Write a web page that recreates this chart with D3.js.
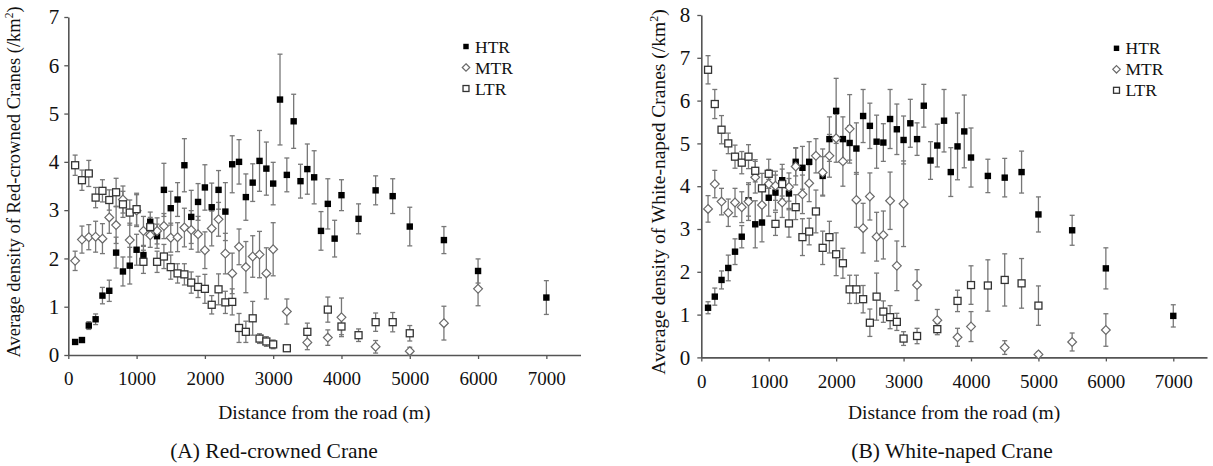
<!DOCTYPE html>
<html>
<head>
<meta charset="utf-8">
<script src="https://cdn.jsdelivr.net/npm/d3@7"></script>
<style>
  body { margin: 0; background: #fff; }
  svg text { font-family: "Liberation Serif", "Times New Roman", serif; fill: #111; }
</style>
</head>
<body>
<div id="chart"></div>
<script>
const width = 1213;
const height = 466;

// Data: [distance (m), mean density, error].
const series = ["HTR", "MTR", "LTR"];
const xTicks = [0, 1000, 2000, 3000, 4000, 5000, 6000, 7000];
const yTicksRed = [0, 1, 2, 3, 4, 5, 6, 7];
const yTicksWhite = [0, 1, 2, 3, 4, 5, 6, 7, 8];

const redHTR = [
  [100, 0.27, 0.03], [200, 0.31, 0.03], [300, 0.61, 0.08], [400, 0.74, 0.11],
  [500, 1.23, 0.17], [600, 1.33, 0.22], [700, 2.12, 0.32], [800, 1.73, 0.3],
  [900, 1.85, 0.38], [1000, 2.18, 0.32], [1100, 2.07, 0.18], [1200, 2.76, 0.2],
  [1300, 2.46, 0.25], [1400, 3.42, 0.55], [1500, 3.04, 0.35], [1600, 3.22, 0.35],
  [1700, 3.93, 0.55], [1800, 2.86, 0.55], [1900, 3.17, 0.38], [2000, 3.47, 0.47],
  [2100, 3.06, 0.5], [2200, 3.42, 0.4], [2300, 2.97, 0.6], [2400, 3.95, 0.59],
  [2500, 4.0, 0.46], [2600, 3.27, 0.48], [2700, 3.57, 0.39], [2800, 4.02, 0.63],
  [2900, 3.86, 0.55], [3000, 3.55, 0.44], [3100, 5.29, 0.94], [3200, 3.73, 0.35],
  [3300, 4.84, 0.56], [3400, 3.6, 0.35], [3500, 3.85, 0.52], [3600, 3.68, 0.55],
  [3700, 2.57, 0.4], [3800, 3.13, 0.52], [3900, 2.41, 0.38], [4000, 3.31, 0.32],
  [4250, 2.82, 0.31], [4500, 3.41, 0.3], [4750, 3.29, 0.36], [5000, 2.66, 0.4],
  [5500, 2.38, 0.28], [6000, 1.74, 0.25], [7000, 1.19, 0.35]
];
const redMTR = [
  [100, 1.95, 0.2], [200, 2.39, 0.28], [300, 2.44, 0.26], [400, 2.45, 0.32],
  [500, 2.41, 0.31], [600, 2.85, 0.33], [700, 2.69, 0.38], [800, 3.22, 0.28],
  [900, 2.38, 0.35], [1000, 2.99, 0.33], [1100, 2.57, 0.3], [1200, 2.48, 0.25],
  [1300, 2.57, 0.27], [1400, 2.67, 0.26], [1500, 2.43, 0.3], [1600, 2.44, 0.3],
  [1700, 2.64, 0.4], [1800, 2.59, 0.4], [1900, 2.5, 0.37], [2000, 2.17, 0.38],
  [2100, 2.62, 0.36], [2200, 2.81, 0.35], [2300, 2.1, 0.42], [2400, 1.69, 0.42],
  [2500, 2.24, 0.37], [2600, 1.82, 0.53], [2700, 2.04, 0.43], [2800, 2.08, 0.48],
  [2900, 1.69, 0.53], [3000, 2.19, 0.55], [3200, 0.9, 0.26], [3500, 0.26, 0.15],
  [3800, 0.36, 0.16], [4000, 0.78, 0.4], [4500, 0.17, 0.13], [5000, 0.08, 0.08],
  [5500, 0.66, 0.35], [6000, 1.37, 0.35]
];
const redLTR = [
  [100, 3.93, 0.21], [200, 3.62, 0.21], [300, 3.76, 0.27], [400, 3.26, 0.21],
  [500, 3.4, 0.23], [600, 3.21, 0.21], [700, 3.37, 0.29], [800, 3.12, 0.27],
  [900, 2.95, 0.26], [1000, 3.02, 0.33], [1100, 1.93, 0.24], [1200, 2.65, 0.2],
  [1300, 1.93, 0.22], [1400, 2.04, 0.25], [1500, 1.82, 0.25], [1600, 1.69, 0.2],
  [1700, 1.67, 0.22], [1800, 1.5, 0.22], [1900, 1.41, 0.22], [2000, 1.37, 0.3],
  [2100, 1.04, 0.19], [2200, 1.36, 0.32], [2300, 1.09, 0.23], [2400, 1.1, 0.27],
  [2500, 0.56, 0.3], [2600, 0.48, 0.22], [2700, 0.76, 0.35], [2800, 0.34, 0.1],
  [2900, 0.28, 0.1], [3000, 0.22, 0.09], [3200, 0.14, 0.04], [3500, 0.48, 0.18],
  [3800, 0.94, 0.26], [4000, 0.59, 0.17], [4250, 0.41, 0.13], [4500, 0.68, 0.19],
  [4750, 0.68, 0.2], [5000, 0.45, 0.16]
];

const whiteHTR = [
  [100, 1.16, 0.14], [200, 1.42, 0.2], [300, 1.81, 0.21], [400, 2.09, 0.3],
  [500, 2.47, 0.3], [600, 2.82, 0.26], [700, 3.67, 0.37], [800, 3.11, 0.55],
  [900, 3.15, 0.45], [1000, 3.73, 0.43], [1100, 3.85, 0.41], [1200, 4.14, 0.37],
  [1300, 3.83, 0.35], [1400, 4.57, 0.33], [1500, 4.43, 0.5], [1600, 4.57, 0.47],
  [1800, 4.24, 0.45], [1900, 5.1, 0.52], [2000, 5.76, 0.76], [2100, 5.1, 0.52],
  [2200, 5.01, 0.4], [2300, 4.88, 0.6], [2400, 5.64, 0.62], [2500, 5.41, 0.53],
  [2600, 5.04, 0.62], [2700, 5.02, 0.44], [2800, 5.57, 0.69], [2900, 5.33, 0.59],
  [3000, 5.08, 0.56], [3100, 5.47, 0.56], [3200, 5.1, 0.38], [3300, 5.88, 0.5],
  [3400, 4.6, 0.44], [3500, 4.95, 0.5], [3600, 5.53, 0.73], [3700, 4.33, 0.57],
  [3800, 4.93, 0.78], [3900, 5.28, 0.85], [4000, 4.67, 0.69], [4250, 4.24, 0.39],
  [4500, 4.2, 0.45], [4750, 4.33, 0.49], [5000, 3.34, 0.41], [5500, 2.97, 0.35],
  [6000, 2.08, 0.48], [7000, 0.97, 0.26]
];
const whiteMTR = [
  [100, 3.47, 0.31], [200, 4.05, 0.32], [300, 3.64, 0.31], [400, 3.38, 0.32],
  [500, 3.62, 0.33], [600, 3.51, 0.36], [700, 3.64, 0.44], [800, 4.21, 0.37],
  [900, 3.56, 0.35], [1000, 4.05, 0.34], [1100, 4.01, 0.34], [1200, 3.62, 0.35],
  [1300, 3.98, 0.33], [1400, 4.46, 0.43], [1500, 3.81, 0.45], [1600, 4.07, 0.43],
  [1700, 4.71, 0.4], [1800, 4.32, 0.55], [1900, 4.71, 0.5], [2000, 5.12, 0.56],
  [2100, 4.58, 0.58], [2200, 5.34, 0.8], [2300, 3.68, 0.64], [2400, 3.02, 0.58],
  [2500, 3.76, 0.55], [2600, 2.82, 0.57], [2700, 2.86, 0.56], [2800, 3.66, 0.67],
  [2900, 2.14, 0.58], [3000, 3.59, 1.0], [3200, 1.69, 0.36], [3500, 0.87, 0.25],
  [3800, 0.47, 0.21], [4000, 0.72, 0.35], [4500, 0.23, 0.16], [5000, 0.07, 0.06],
  [5500, 0.36, 0.21], [6000, 0.64, 0.38]
];
const whiteLTR = [
  [100, 6.72, 0.33], [200, 5.92, 0.34], [300, 5.32, 0.33], [400, 5.0, 0.24],
  [500, 4.69, 0.27], [600, 4.55, 0.26], [700, 4.69, 0.28], [800, 4.36, 0.26],
  [900, 3.95, 0.35], [1000, 4.29, 0.34], [1100, 3.12, 0.27], [1200, 4.05, 0.35],
  [1300, 3.13, 0.32], [1400, 3.51, 0.29], [1500, 2.81, 0.43], [1600, 2.94, 0.31],
  [1700, 3.41, 0.5], [1800, 2.56, 0.39], [1900, 2.81, 0.37], [2000, 2.41, 0.5],
  [2100, 2.2, 0.35], [2200, 1.59, 0.33], [2300, 1.59, 0.33], [2400, 1.36, 0.32],
  [2500, 0.81, 0.32], [2600, 1.42, 0.55], [2700, 1.07, 0.25], [2800, 0.94, 0.27],
  [2900, 0.83, 0.2], [3000, 0.44, 0.16], [3200, 0.5, 0.18], [3500, 0.66, 0.13],
  [3800, 1.32, 0.25], [4000, 1.69, 0.45], [4250, 1.68, 0.6], [4500, 1.81, 0.61],
  [4750, 1.73, 0.58], [5000, 1.21, 0.46]
];

const svg = d3.select("#chart")
  .append("svg")
  .attr("width", width)
  .attr("height", height);

const axisColour = "#555";
const barColour = "#777";

// Marker drawing for each series.
const drawMarker = (g, name, cx, cy, small) => {
  const s = small ? 0.85 : 1;
  if (name === "HTR") {
    const h = 3.2 * s;
    g.append("rect")
      .attr("x", cx - h).attr("y", cy - h)
      .attr("width", 2 * h).attr("height", 2 * h)
      .attr("fill", "#000");
  } else if (name === "MTR") {
    const h = 4.4 * s;
    g.append("path")
      .attr("d", `M${cx},${cy - h}L${cx + h},${cy}L${cx},${cy + h}L${cx - h},${cy}Z`)
      .attr("fill", "#fff")
      .attr("stroke", "#6a6a6a")
      .attr("stroke-width", 1.2);
  } else {
    const h = 3.5 * s;
    g.append("rect")
      .attr("x", cx - h).attr("y", cy - h)
      .attr("width", 2 * h).attr("height", 2 * h)
      .attr("fill", "#fff")
      .attr("stroke", "#333")
      .attr("stroke-width", 1.3);
  }
};

const drawPanel = cfg => {
  const x = d3.scaleLinear().domain([0, 7500]).range([cfg.left, cfg.right]);
  const y = d3.scaleLinear().domain([0, cfg.yMax]).range([cfg.bottom, cfg.top]);
  const g = svg.append("g");

  // Axes.
  const xAxis = g.append("g")
    .attr("transform", `translate(0,${cfg.bottom})`)
    .call(d3.axisBottom(x).tickValues(xTicks).tickSize(4).tickSizeOuter(0).tickPadding(13)
      .tickFormat(d3.format("d")));
  const yAxis = g.append("g")
    .attr("transform", `translate(${cfg.left},0)`)
    .call(d3.axisLeft(y).tickValues(cfg.yTicks).tickSize(4).tickSizeOuter(0).tickPadding(cfg.yPad)
      .tickFormat(d3.format("d")));

  [xAxis, yAxis].forEach(a => {
    a.select(".domain").attr("stroke", axisColour).attr("stroke-width", 1.6);
    a.selectAll(".tick line").attr("stroke", axisColour).attr("stroke-width", 1.3);
    a.selectAll(".tick text")
      .attr("font-family", "Liberation Serif, serif")
      .attr("fill", "#111");
  });
  xAxis.selectAll(".tick text").attr("font-size", 19);
  yAxis.selectAll(".tick text").attr("font-size", 21);

  // Error bars.
  const bars = g.append("g")
    .attr("stroke", barColour)
    .attr("stroke-width", 1.3);
  cfg.data.forEach(rows => {
    rows.forEach(([d, v, e]) => {
      const cx = x(d);
      const y1 = y(v + e);
      const y2 = y(Math.max(0, v - e));
      bars.append("line").attr("x1", cx).attr("x2", cx).attr("y1", y1).attr("y2", y2);
      bars.append("line").attr("x1", cx - 2.5).attr("x2", cx + 2.5).attr("y1", y1).attr("y2", y1);
      bars.append("line").attr("x1", cx - 2.5).attr("x2", cx + 2.5).attr("y1", y2).attr("y2", y2);
    });
  });

  // Points.
  const points = g.append("g");
  cfg.data.forEach((rows, i) => {
    rows.forEach(([d, v]) => drawMarker(points, series[i], x(d), y(v), false));
  });

  // Legend.
  series.forEach((name, i) => {
    const cy = cfg.legendY + i * 21;
    drawMarker(g, name, cfg.legendX, cy, true);
    g.append("text")
      .attr("x", cfg.legendX + 9)
      .attr("y", cy + 6)
      .attr("font-size", 17.5)
      .text(name);
  });

  // Axis titles and caption.
  g.append("text")
    .attr("x", (cfg.left + cfg.right) / 2)
    .attr("y", 419)
    .attr("text-anchor", "middle")
    .attr("font-size", 19.5)
    .text("Distance from the road (m)");

  const yt = g.append("text")
    .attr("transform", `translate(${cfg.yTitleX},${cfg.yTitleY}) rotate(-90)`)
    .attr("text-anchor", "middle")
    .attr("font-size", cfg.yTitleSize);
  yt.append("tspan").text(cfg.yTitle);
  yt.append("tspan").attr("font-size", cfg.yTitleSize * 0.62).attr("dy", -7).text("2");
  yt.append("tspan").attr("dy", 7).text(")");

  g.append("text")
    .attr("x", cfg.captionX)
    .attr("y", 458)
    .attr("text-anchor", "middle")
    .attr("font-size", 21.5)
    .text(cfg.caption);
};

drawPanel({
  left: 68.3, right: 580.5, top: 17, bottom: 355, yMax: 7,
  yTicks: yTicksRed, yPad: 5,
  data: [redHTR, redMTR, redLTR],
  legendX: 466, legendY: 46.5,
  yTitle: "Average density of Red-crowned Cranes (/km",
  yTitleX: 20, yTitleY: 182, yTitleSize: 18.5,
  caption: "(A) Red-crowned Crane", captionX: 274
});

drawPanel({
  left: 701.3, right: 1207, top: 15, bottom: 357.4, yMax: 8,
  yTicks: yTicksWhite, yPad: 7,
  data: [whiteHTR, whiteMTR, whiteLTR],
  legendX: 1116.5, legendY: 48.3,
  yTitle: "Average density of White-naped Cranes (/km",
  yTitleX: 665, yTitleY: 192, yTitleSize: 19.5,
  caption: "(B) White-naped Crane", captionX: 952
});
</script>
</body>
</html>
